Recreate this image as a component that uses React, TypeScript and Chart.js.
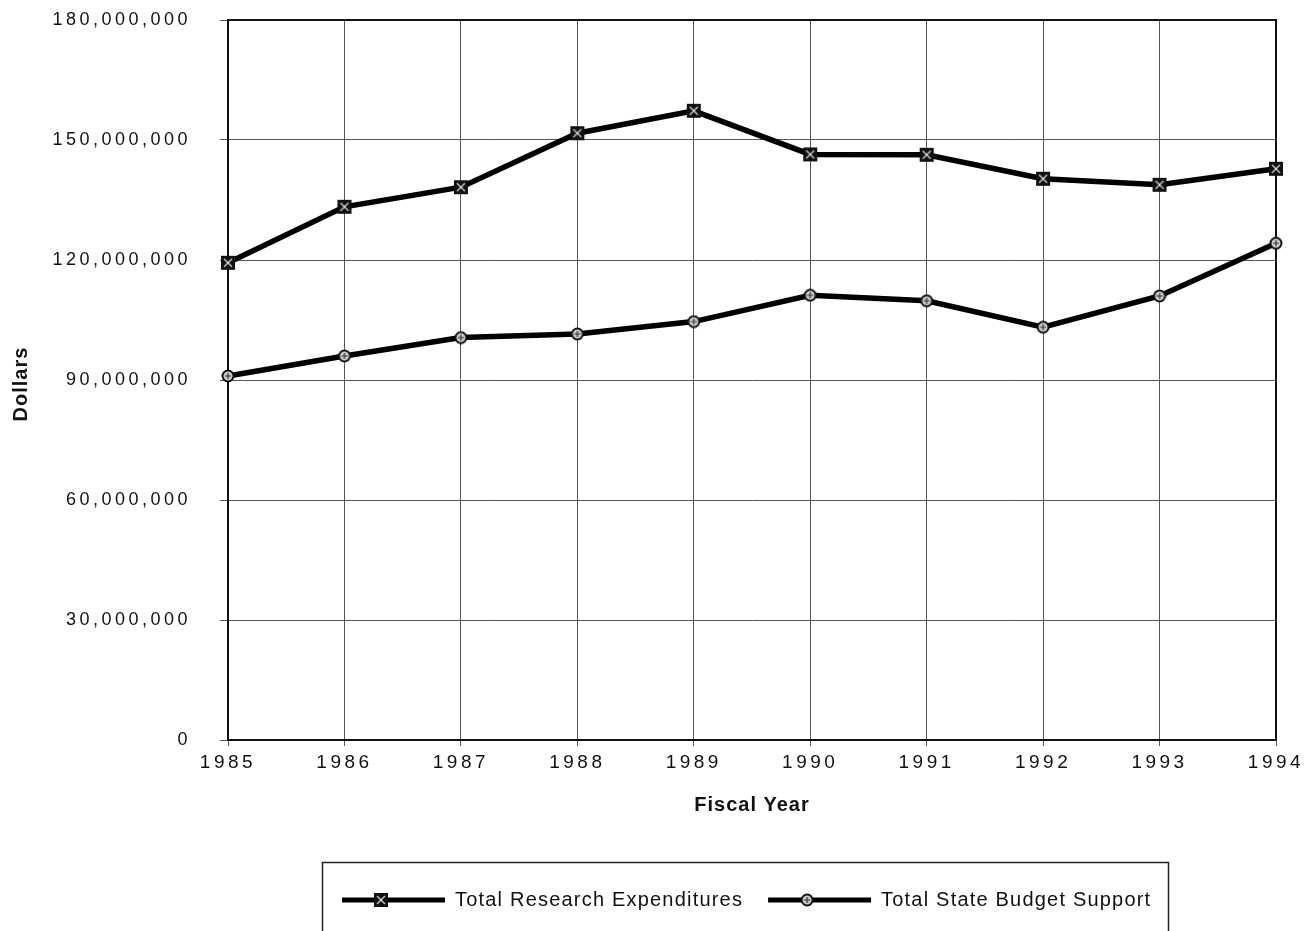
import { useEffect, useRef } from 'react';
import { Chart, registerables } from 'chart.js';

Chart.register(...registerables);

const fiscalYears = ['1985', '1986', '1987', '1988', '1989', '1990', '1991', '1992', '1993', '1994'];
const totalResearchExpenditures = [119.3, 133.3, 138.2, 151.7, 157.3, 146.4, 146.3, 140.3, 138.8, 142.8].map((v) => v * 1e6);
const totalStateBudgetSupport = [91.0, 96.0, 100.6, 101.5, 104.6, 111.2, 109.8, 103.2, 111.0, 124.2].map((v) => v * 1e6);
const yTickValues = [0, 30e6, 60e6, 90e6, 120e6, 150e6, 180e6];
const seriesLabels = ['Total Research Expenditures', 'Total State Budget Support'];
const xAxisTitle = 'Fiscal Year';
const yAxisTitle = 'Dollars';

const FONT = "'Liberation Sans', Arial, Helvetica, sans-serif";

function makeSquareMarker(): HTMLCanvasElement {
  const c = document.createElement('canvas');
  c.width = 16;
  c.height = 16;
  const g = c.getContext('2d')!;
  g.fillStyle = '#111';
  g.fillRect(1, 1, 14, 14);
  g.strokeStyle = '#bbb';
  g.lineWidth = 1.6;
  g.beginPath();
  g.moveTo(4, 4); g.lineTo(12, 12);
  g.moveTo(12, 4); g.lineTo(4, 12);
  g.stroke();
  g.fillStyle = '#ddd';
  g.fillRect(7, 7, 2, 2);
  return c;
}

function makeCircleMarker(): HTMLCanvasElement {
  const c = document.createElement('canvas');
  c.width = 14;
  c.height = 14;
  const g = c.getContext('2d')!;
  g.beginPath();
  g.arc(7, 7, 5.5, 0, Math.PI * 2);
  g.fillStyle = '#ccc';
  g.fill();
  g.lineWidth = 2;
  g.strokeStyle = '#111';
  g.stroke();
  g.strokeStyle = '#333';
  g.lineWidth = 1.2;
  g.beginPath();
  g.moveTo(4, 7); g.lineTo(10, 7);
  g.moveTo(7, 4); g.lineTo(7, 10);
  g.stroke();
  return c;
}

export default function App() {
  const ref = useRef<HTMLCanvasElement | null>(null);

  useEffect(() => {
    document.body.style.margin = '0';
    const canvas = ref.current;
    if (!canvas) return;
    const sq = makeSquareMarker();
    const ci = makeCircleMarker();

    const spacingPlugin = {
      id: 'spacing',
      beforeDraw(chart: any) {
        chart.ctx.letterSpacing = '3.5px';
      },
    };

    const framePlugin = {
      id: 'frame',
      beforeDatasetsDraw(chart: any) {
        const { ctx, chartArea: a } = chart;
        ctx.save();
        ctx.strokeStyle = '#111';
        ctx.lineWidth = 2;
        ctx.strokeRect(a.left, a.top, a.right - a.left, a.bottom - a.top);
        ctx.restore();
      },
    };

    const annotPlugin = {
      id: 'annot',
      afterDraw(chart: any) {
        const { ctx, chartArea: a } = chart;
        ctx.save();
        ctx.letterSpacing = '1px';
        ctx.fillStyle = '#111';
        ctx.font = `bold 20px ${FONT}`;
        ctx.textAlign = 'center';
        ctx.textBaseline = 'middle';
        ctx.fillText(xAxisTitle, (a.left + a.right) / 2, 805);
        ctx.save();
        ctx.translate(21, (a.top + a.bottom) / 2 + 4);
        ctx.rotate(-Math.PI / 2);
        ctx.fillText(yAxisTitle, 0, 0);
        ctx.restore();

        // legend
        ctx.strokeStyle = '#222';
        ctx.lineWidth = 1.5;
        ctx.strokeRect(322.5, 862.5, 846, 120);
        ctx.letterSpacing = '1.2px';
        ctx.font = `20px ${FONT}`;
        ctx.textAlign = 'left';
        let x = 342;
        const y = 900;
        chart.data.datasets.forEach((ds: any) => {
          ctx.beginPath();
          ctx.moveTo(x, y);
          ctx.lineTo(x + 103, y);
          ctx.lineWidth = 5;
          ctx.strokeStyle = '#000';
          ctx.stroke();
          const m = ds.pointStyle as HTMLCanvasElement;
          ctx.drawImage(m, x + 39 - m.width / 2, y - m.height / 2);
          x += 113;
          ctx.fillStyle = '#111';
          ctx.fillText(ds.label, x, y);
          x += ctx.measureText(ds.label).width + 25;
        });
        ctx.restore();
        ctx.letterSpacing = '0px';
      },
    };

    const chart = new Chart(canvas, {
      type: 'line',
      data: {
        labels: fiscalYears,
        datasets: [
          {
            label: seriesLabels[0],
            data: totalResearchExpenditures,
            borderColor: '#000',
            borderWidth: 5.5,
            tension: 0,
            pointStyle: sq as any,
            pointRadius: 8,
          },
          {
            label: seriesLabels[1],
            data: totalStateBudgetSupport,
            borderColor: '#000',
            borderWidth: 5.5,
            tension: 0,
            pointStyle: ci as any,
            pointRadius: 7,
          },
        ],
      },
      options: {
        responsive: false,
        animation: false,
        layout: { padding: { top: 20, right: 34, left: 0, bottom: 0 } },
        plugins: {
          legend: { display: false },
          tooltip: { enabled: false },
        },
        scales: {
          x: {
            type: 'category',
            offset: false,
            grid: { color: '#555', lineWidth: 1, tickLength: 6 },
            border: { color: '#111', width: 2 },
            ticks: { color: '#111', font: { size: 19, family: FONT }, padding: 5, maxRotation: 0, autoSkip: false },
            afterFit: (s: any) => { s.height = 191; },
          },
          y: {
            min: yTickValues[0],
            max: yTickValues[yTickValues.length - 1],
            afterBuildTicks: (s: any) => { s.ticks = yTickValues.map((v) => ({ value: v })); },
            grid: { color: '#555', lineWidth: 1, tickLength: 8 },
            border: { color: '#111', width: 2 },
            ticks: {
              color: '#111',
              font: { size: 18, family: FONT },
              padding: 29,
              callback: (v: any) => Number(v).toLocaleString('en-US'),
            },
            afterFit: (s: any) => {
              s.width = 228;
              s.paddingTop = 0;
              s.paddingBottom = 0;
            },
          },
        },
      },
      plugins: [spacingPlugin, framePlugin, annotPlugin],
    });
    return () => chart.destroy();
  }, []);

  return <canvas ref={ref} width={1310} height={931} style={{ display: 'block' }} />;
}
